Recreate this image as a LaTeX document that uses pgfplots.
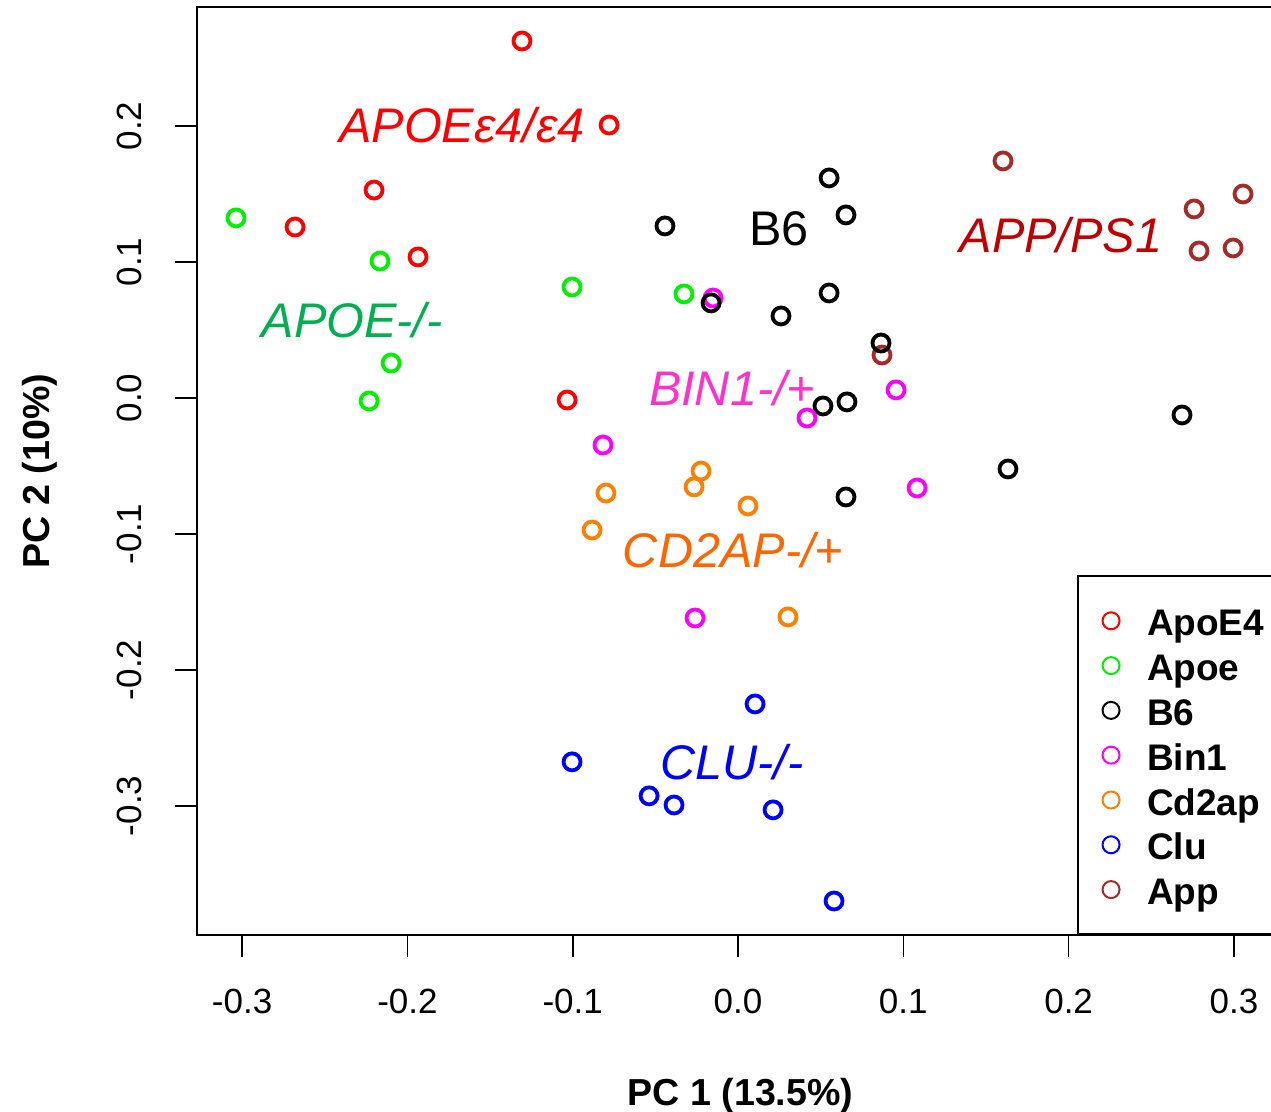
\documentclass[border=0pt]{standalone}
\usepackage{fontspec}
\setmainfont{Liberation Sans}
\usepackage{pgfplots}
\pgfplotsset{compat=1.18}

% series colours
\definecolor{cApoEfour}{HTML}{FF0000}
\definecolor{cApoe}{HTML}{00F000}
\definecolor{cBsix}{HTML}{000000}
\definecolor{cBin}{HTML}{FF00FF}
\definecolor{cCd}{HTML}{FF8000}
\definecolor{cClu}{HTML}{0000FF}
\definecolor{cApp}{HTML}{A52A2A}
% label colours
\definecolor{lApoe}{HTML}{00B050}
\definecolor{lApp}{HTML}{C00000}
\definecolor{lBin}{HTML}{FF33CC}
\definecolor{lCd}{HTML}{FF6600}

\pgfplotsset{
  pcpt/.style={only marks, mark=o, mark size=4.25pt, mark options={line width=1.9pt}, forget plot},
  legmark/.style={legend image code/.code={
      \path[draw=none] (0pt,0pt) -- (34.5pt,0pt);
      \path[##1, draw=none, mark=o, mark size=4.25pt, mark options={line width=1pt}] plot coordinates {(16.5pt,0pt)};}},
}
\tikzset{grp/.style={font=\fontsize{24.3}{28}\selectfont\itshape, anchor=base}}

\begin{document}
\begin{tikzpicture}
\begin{axis}[
  scale only axis,
  width=543.5pt, height=464pt,
  xmin=-0.3273, xmax=0.3303,
  ymin=-0.3949, ymax=0.2875,
  axis line style={line width=1.2pt},
  tick align=outside,
  major tick length=11pt,
  tick style={line width=0.8pt, black},
  xtick pos=left, ytick pos=left,
  xtick={-0.3,-0.2,-0.1,0,0.1,0.2,0.3},
  xticklabels={-0.3,-0.2,-0.1,0.0,0.1,0.2,0.3},
  ytick={-0.3,-0.2,-0.1,0,0.1,0.2},
  yticklabels={-0.3,-0.2,-0.1,0.0,0.1,0.2},
  tick label style={font=\fontsize{17.5}{20}\selectfont, inner sep=0pt},
  xticklabel style={anchor=north},
  yticklabel style={rotate=90, anchor=south},
  xticklabel shift=16pt, yticklabel shift=16.5pt,
  xlabel={PC 1 (13.5\%)}, ylabel={PC 2 (10\%)},
  label style={font=\fontsize{18.8}{22}\selectfont\bfseries},
  xlabel style={at={(axis description cs:0.5,-0.1735)}, anchor=center},
  ylabel style={at={(axis description cs:-0.1444,0.5)}, anchor=center},
  legend style={at={(axis cs:0.2051,-0.3949)}, anchor=south west,
    draw=black, line width=1pt, inner xsep=0pt, inner ysep=11pt, row sep=0pt,
    font=\fontsize{18.5}{22}\selectfont\bfseries,
    nodes={inner sep=0pt, text height=18.8pt, text depth=3.6pt}},
  legend cell align=left,
]
\coordinate (bl) at (rel axis cs:0,0);
\coordinate (tr) at (rel axis cs:1,1);

% ApoE4
\addplot[pcpt, cApoEfour] coordinates {
  (-0.1307,0.2625) (-0.0780,0.2007) (-0.2202,0.1529)
  (-0.2680,0.1257) (-0.1936,0.1037) (-0.1034,-0.0015)};
% Apoe
\addplot[pcpt, cApoe] coordinates {
  (-0.3037,0.1324) (-0.2166,0.1007) (-0.1004,0.0816)
  (-0.0327,0.0765) (-0.2099,0.0257) (-0.2232,-0.0022)};
% Bin1
\addplot[pcpt, cBin] coordinates {
  (-0.0151,0.0735) (0.0956,0.0059) (-0.0817,-0.0346)
  (0.1083,-0.0662) (-0.0260,-0.1618)};
% App
\addplot[pcpt, cApp] coordinates {
  (0.1603,0.1743) (0.3055,0.1500) (0.2759,0.1390)
  (0.2789,0.1081) (0.2995,0.1103) (0.0871,0.0316)};
% B6
\addplot[pcpt, cBsix] coordinates {
  (0.0551,0.1618) (0.0653,0.1346) (-0.0442,0.1265)
  (-0.0163,0.0699) (0.0260,0.0603) (0.0551,0.0772)
  (0.0865,0.0404) (0.0514,-0.0059) (0.0659,-0.0029)
  (0.2686,-0.0125) (0.1633,-0.0522) (0.0653,-0.0728)};
% Cd2ap
\addplot[pcpt, cCd] coordinates {
  (-0.0224,-0.0537) (-0.0266,-0.0654) (-0.0799,-0.0699)
  (0.0060,-0.0794) (-0.0883,-0.0971) (0.0302,-0.1610)};
% Clu
\addplot[pcpt, cClu] coordinates {
  (0.0103,-0.2250) (-0.1004,-0.2676) (-0.0538,-0.2926)
  (-0.0387,-0.2993) (0.0212,-0.3029) (0.0581,-0.3699)};
% Bin1 (point drawn over B6)
\addplot[pcpt, cBin] coordinates {(0.0417,-0.0147)};

\addlegendimage{legmark, cApoEfour}\addlegendentry{ApoE4\hspace*{16pt}}
\addlegendimage{legmark, cApoe}\addlegendentry{Apoe}
\addlegendimage{legmark, cBsix}\addlegendentry{B6}
\addlegendimage{legmark, cBin}\addlegendentry{Bin1}
\addlegendimage{legmark, cCd}\addlegendentry{Cd2ap}
\addlegendimage{legmark, cClu}\addlegendentry{Clu}
\addlegendimage{legmark, cApp}\addlegendentry{App}

\node[grp, text=cApoEfour] at (axis cs:-0.1670,0.1875) {APOEε4/ε4};
\node[grp, text=lApoe] at (axis cs:-0.2335,0.0441) {APOE-/-};
\node[grp, text=black, font=\fontsize{24.3}{28}\selectfont] at (axis cs:0.0248,0.1118) {B6};
\node[grp, text=lApp] at (axis cs:0.1954,0.1066) {APP/PS1};
\node[grp, text=lBin] at (axis cs:-0.0036,-0.0059) {BIN1-/+};
\node[grp, text=lCd] at (axis cs:-0.0030,-0.1250) {CD2AP-/+};
\node[grp, text=cClu] at (axis cs:-0.0036,-0.2809) {CLU-/-};
\end{axis}
\pgfresetboundingbox
\useasboundingbox ([shift={(-98.5pt,-88.5pt)}]bl) rectangle ([shift={(-6.5pt,3.5pt)}]tr);
\end{tikzpicture}
\end{document}
